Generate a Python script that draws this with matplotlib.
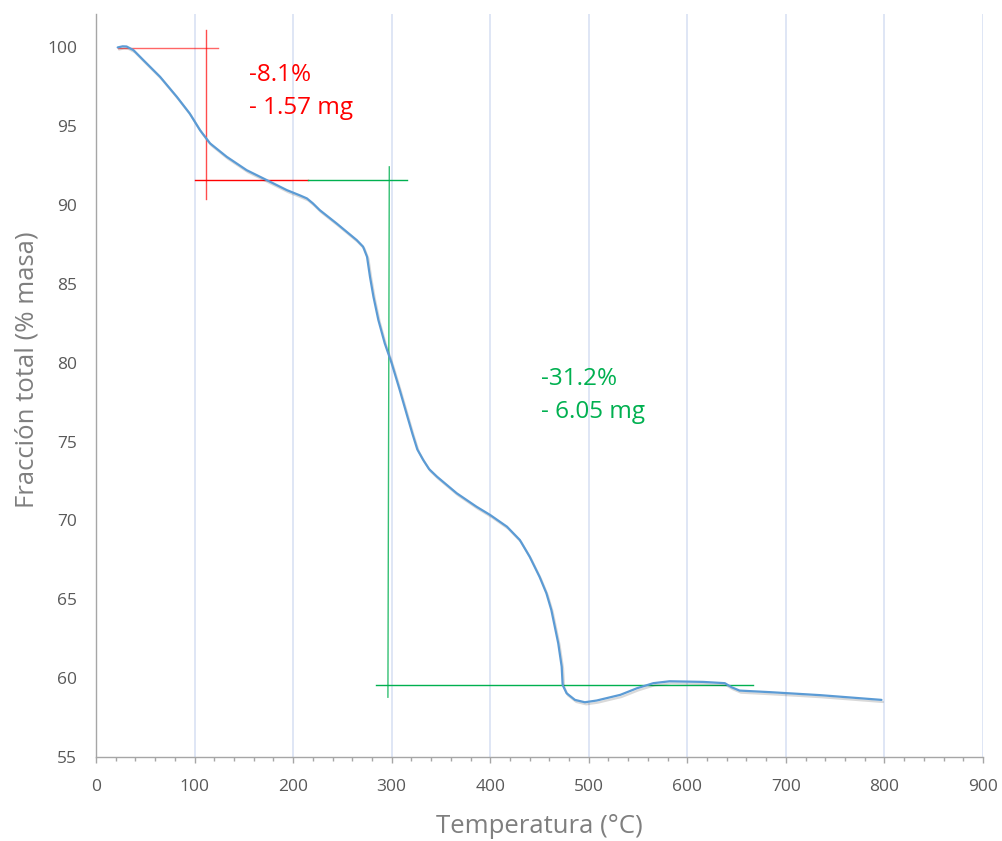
import matplotlib
matplotlib.use('Agg')
import matplotlib.pyplot as plt
import matplotlib.patheffects as pe

plt.rcParams['font.family'] = ['Open Sans', 'DejaVu Sans']

# curva TG: temperatura (°C) vs fraccion de masa (%)
temp = [22, 27, 31, 38, 48, 65, 82, 95, 105.5, 115.7, 132.6, 152.9, 176.5, 193.5,
        207, 214, 220, 227, 244, 264.5, 271, 275, 278, 281.5, 286.5, 293, 300,
        308, 316, 321, 326, 332, 338, 346, 366, 386, 400, 417, 430, 440, 450,
        457, 462, 469, 472.5, 473.5, 477.5, 486, 496, 508, 532, 549, 565.5, 582,
        616, 638, 645, 653, 684, 735, 797]
masa = [99.98, 100.05, 100.04, 99.81, 99.18, 98.12, 96.85, 95.8, 94.74, 93.9,
        93.05, 92.2, 91.47, 90.94, 90.6, 90.41, 90.1, 89.67, 88.83, 87.77,
        87.35, 86.71, 85.44, 84.18, 82.7, 81.22, 79.96, 78.3, 76.57, 75.5,
        74.5, 73.83, 73.25, 72.77, 71.72, 70.87, 70.34, 69.6, 68.76, 67.7,
        66.43, 65.38, 64.32, 62.21, 60.73, 59.57, 59.04, 58.62, 58.47, 58.58,
        58.94, 59.36, 59.68, 59.8, 59.76, 59.68, 59.42, 59.21, 59.11, 58.92,
        58.62]

# lineas de referencia de cada etapa
paso1_x = [111.5, 111.5]
paso1_y = [90.4, 101.1]
nivel1_x = [22.6, 124]
nivel1_y = [99.96, 99.96]
nivel2_rojo_x = [100.4, 215]
nivel2_verde_x = [215, 316]
nivel2_y = [91.55, 91.55]
paso2_x = [297.6, 296.2]
paso2_y = [92.41, 58.79]
nivel3_x = [284, 666.5]
nivel3_y = [59.55, 59.55]

etiquetas_rojo = ['-8.1%', '- 1.57 mg']
etiquetas_verde = ['-31.2%', '- 6.05 mg']

gris = '#595959'

fig = plt.figure(figsize=(10.03, 8.41), dpi=100)
ax = fig.add_axes([96 / 1003, 1 - 757 / 841, 887 / 1003, 743 / 841])

ax.plot(temp, masa, color='#5B9BD5', lw=1.6, solid_capstyle='round',
        solid_joinstyle='round', zorder=5,
        path_effects=[pe.SimpleLineShadow(offset=(1, -1.5), alpha=0.15, rho=0.4),
                      pe.Normal()])

ax.plot(paso1_x, paso1_y, color='#FF0000', lw=1.0, alpha=0.7, zorder=4)
ax.plot(nivel1_x, nivel1_y, color='#FF0000', lw=1.0, alpha=0.6, zorder=4)
ax.plot(nivel2_rojo_x, nivel2_y, color='#FF0000', lw=1.0, zorder=4)
ax.plot(nivel2_verde_x, nivel2_y, color='#00B050', lw=1.0, zorder=4)
ax.plot(paso2_x, paso2_y, color='#00B050', lw=1.0, alpha=0.8, zorder=4)
ax.plot(nivel3_x, nivel3_y, color='#00B050', lw=1.0, zorder=4)

ax.text(155.5, 97.86, etiquetas_rojo[0], color='#FF0000', fontsize=17.5, va='baseline')
ax.text(155.5, 95.74, etiquetas_rojo[1], color='#FF0000', fontsize=17.5, va='baseline')
ax.text(451.5, 78.58, etiquetas_verde[0], color='#00B050', fontsize=17.5, va='baseline')
ax.text(451.5, 76.47, etiquetas_verde[1], color='#00B050', fontsize=17.5, va='baseline')

ax.set_xlim(0, 900)
ax.set_ylim(55, 102.1)
ax.set_xticks(range(0, 901, 100))
ax.set_xticks(range(0, 901, 20), minor=True)
ax.set_yticks(range(55, 101, 5))

ax.grid(axis='x', which='major', color='#D9E2F3', lw=1.2, zorder=0)
ax.set_axisbelow(True)

for s in ['top', 'right']:
    ax.spines[s].set_visible(False)
for s in ['left', 'bottom']:
    ax.spines[s].set_color('#A6A6A6')
    ax.spines[s].set_linewidth(1.0)

ax.tick_params(axis='x', which='major', length=4.5, width=1, color='#A6A6A6',
               labelsize=12.5, labelcolor=gris, pad=11)
ax.tick_params(axis='x', which='minor', length=3.2, width=1, color='#A6A6A6')
ax.tick_params(axis='y', length=0, labelsize=12.5, labelcolor=gris, pad=13.5)

ax.set_xlabel('Temperatura (°C)', fontsize=18.5, color='#7F7F7F')
ax.xaxis.set_label_coords(0.5, -0.0942)
ax.xaxis.label.set_va('center')
ax.set_ylabel('Fracción total (% masa)', fontsize=18.5, color='#7F7F7F')
ax.yaxis.set_label_coords(-0.0778, 0.521)
ax.yaxis.label.set_va('center')

fig.savefig('out.png', dpi=100)
